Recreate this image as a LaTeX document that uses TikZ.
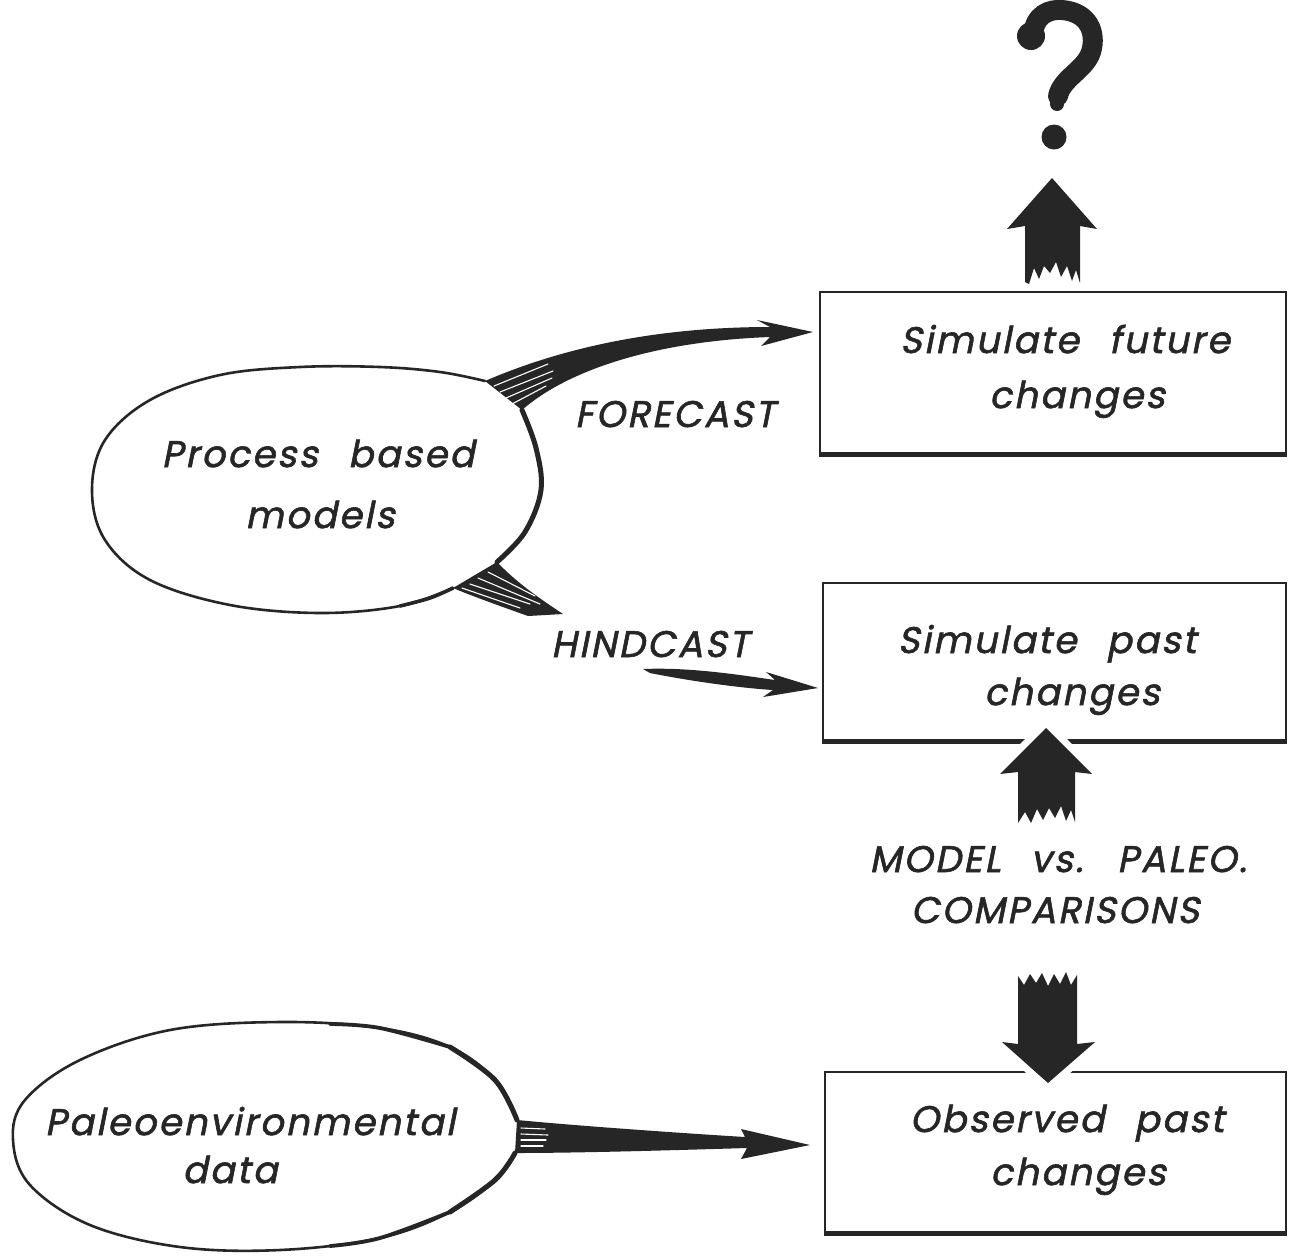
\documentclass[tikz,border=0pt]{standalone}
\usepackage{fontspec}
\newfontfamily\lab{Poppins}[FakeSlant=0.2, FakeBold=1.6, LetterSpace=6, WordSpace=2.5]
\definecolor{ink}{RGB}{38,38,38}
\begin{document}
\begin{tikzpicture}[x=1pt,y=-1pt,
  txt/.style={anchor=base, inner sep=0pt, text=ink, font=\lab\fontsize{37}{44}\selectfont},
  boxframe/.style={draw=ink, line width=2.2pt, rectangle, inner sep=0pt},
  thinline/.style={draw=ink, line width=2.6pt, line join=round, line cap=round},
  thickline/.style={draw=ink, line width=5pt, line join=round, line cap=round},
  blob/.style={fill=ink},
  halo/.style={fill=ink, preaction={draw=white, line width=14pt, line join=round}},
  streak/.style={draw=white, line width=1.1pt, line cap=round}
]
\useasboundingbox (0,0) rectangle (1289,1259);
\fill[white] (0,0) rectangle (1289,1259);

% ---------- boxes ----------
\node[boxframe, minimum width=466pt, minimum height=161pt] (box1) at (1053,372.5) {};
\node[boxframe, minimum width=463pt, minimum height=157pt] (box2) at (1054.5,661.5) {};
\node[boxframe, minimum width=461pt, minimum height=160pt] (box3) at (1055.5,1152) {};
\draw[ink, line width=4.5pt] ([yshift=-1pt]box1.south west) -- ([yshift=-1pt]box1.south east);
\draw[ink, line width=4.5pt] ([yshift=-1pt]box2.south west) -- ([yshift=-1pt]box2.south east);
\draw[ink, line width=4.5pt] ([yshift=-1pt]box3.south west) -- ([yshift=-1pt]box3.south east);

% ---------- box texts ----------
\node[txt] (t1a) at (1065,353) {Simulate future};
\node[txt] (t1b) at (1077,408) {changes};
\node[txt] (t2a) at (1047,653) {Simulate past};
\node[txt] (t2b) at (1072,705) {changes};
\node[txt] (t3a) at (1067,1132) {Observed past};
\node[txt] (t3b) at (1078,1185) {changes};
\node[txt] (cmp1) at (1058,872) {MODEL vs. PALEO.};
\node[txt] (cmp2) at (1055,923) {COMPARISONS};
\node[txt] (fc) at (675,427) {FORECAST};
\node[txt] (hc) at (650,657) {HINDCAST};

% ---------- ellipse 1: Process based models ----------
\coordinate (e1A) at (485,381);
\coordinate (e1B) at (453,588);
\coordinate (e1C) at (497,562);
\coordinate (e1D) at (522,410);
\draw[thinline] plot[smooth, tension=0.6] coordinates {(485,381) (440,372) (380,367) (300,367) (220,375) (150,400) (105,440) (92,490) (105,540) (150,580) (230,605) (320,613) (400,606) (453,588)};
\draw[thickline] plot[smooth, tension=0.6] coordinates {(497,562) (525,532) (541,490) (536,448) (522,410)};
\draw[ink, line width=3.6pt, line cap=round] plot[smooth, tension=0.6] coordinates {(400,606) (430,598) (453,588)};
\node[txt] (pbm1) at (318,467) {Process based};
\node[txt] (pbm2) at (320,528) {models};

% forecast band + head
\path[blob] (e1A) .. controls (580,340) and (680,327) .. (770,327) -- (757,320) -- (813,332) -- (761,346) -- (770,337) .. controls (660,341) and (570,368) .. (e1D) -- cycle;
\draw[streak] (494,386) -- (548,364);
\draw[streak] (500,392) -- (553,371);
\draw[streak] (506,398) -- (552,378);
\draw[streak] (512,404) -- (546,386);

% hindcast wedge
\path[blob] (e1C) .. controls (518,584) and (542,600) .. (563,614) -- (528,616) .. controls (500,606) and (472,596) .. (e1B) -- cycle;
\draw[streak] (462,588) -- (520,608);
\draw[streak] (470,584) -- (530,604);
\draw[streak] (478,578) -- (540,604);
\draw[streak] (488,572) -- (535,596);

% hindcast arrow
\path[blob] (643,669) .. controls (690,667) and (740,675) .. (775,680) -- (766,672) -- (818,688) -- (763,697) -- (773,690) .. controls (740,688) and (690,681) .. (650,673) -- cycle;

% ---------- ellipse 2: Paleoenvironmental data ----------
\coordinate (e2A) at (517,1120);
\coordinate (e2B) at (515,1153);
\draw[thinline] plot[smooth, tension=0.6] coordinates {(517,1120) (495,1080) (450,1047) (380,1028) (280,1022) (170,1030) (80,1060) (25,1100) (13,1140) (30,1185) (90,1225) (180,1247) (280,1250) (380,1238) (450,1212) (495,1180) (515,1153)};
\draw[ink, line width=3.8pt, line cap=round] plot[smooth, tension=0.6] coordinates {(450,1047) (380,1028) (330,1024)};
\draw[ink, line width=3.8pt, line cap=round] plot[smooth, tension=0.6] coordinates {(450,1212) (380,1238) (330,1246)};
\draw[thickline] plot[smooth, tension=0.6] coordinates {(517,1120) (495,1080) (450,1047)};
\draw[thickline] plot[smooth, tension=0.6] coordinates {(515,1153) (495,1180) (450,1212)};
\node[txt] (pe1) at (250,1135) {Paleoenvironmental};
\node[txt] (pe2) at (230,1183) {data};

% paleo arrow
\path[blob] (e2A) .. controls (580,1126) and (680,1133) .. (745,1137) -- (741,1129) -- (810,1145) -- (741,1159) -- (747,1148) .. controls (680,1150) and (580,1153) .. (e2B) -- cycle;
\draw[streak] (521,1128) -- (545,1129);
\draw[streak] (521,1134) -- (548,1135);
\draw[streak] (521,1140) -- (546,1140);
\draw[streak] (521,1146) -- (543,1146);

% ---------- block arrows ----------
% up arrow above box1
\path[blob] (1052,178) -- (1097,229) -- (1080,226) -- (1080,283) -- (1076,270) -- (1072,281) -- (1067,266) -- (1061,277) -- (1056,262) -- (1050,273) -- (1044,266) -- (1039,279) -- (1034,268) -- (1029,284) -- (1025,282) -- (1025,226) -- (1007,229) -- cycle;
% question mark
\draw[ink, line width=20pt, line cap=round] (1033,36) .. controls (1034,14) and (1050,9) .. (1062,10) .. controls (1088,12) and (1097,32) .. (1091,52) .. controls (1085,70) and (1062,78) .. (1058,96);
\draw[ink, line width=14pt, line cap=round] (1058,92) -- (1057,104);
\fill[ink] (1031,36) circle (14);
\fill[ink] (1054,137) circle (12.5);

% up arrow below box2
\path[halo] (1046,728) -- (1092,774) -- (1075,772) -- (1075,822) -- (1071,810) -- (1066,821) -- (1061,806) -- (1055,818) -- (1049,808) -- (1043,820) -- (1037,809) -- (1031,823) -- (1025,812) -- (1018,823) -- (1018,772) -- (1000,774) -- cycle;

% down arrow above box3
\path[halo] (1048,1083) -- (1095,1042) -- (1077,1044) -- (1077,975) -- (1071,985) -- (1066,972) -- (1060,984) -- (1054,974) -- (1048,986) -- (1042,973) -- (1036,983) -- (1030,974) -- (1024,985) -- (1018,976) -- (1018,1044) -- (1002,1042) -- cycle;
\end{tikzpicture}
\end{document}
